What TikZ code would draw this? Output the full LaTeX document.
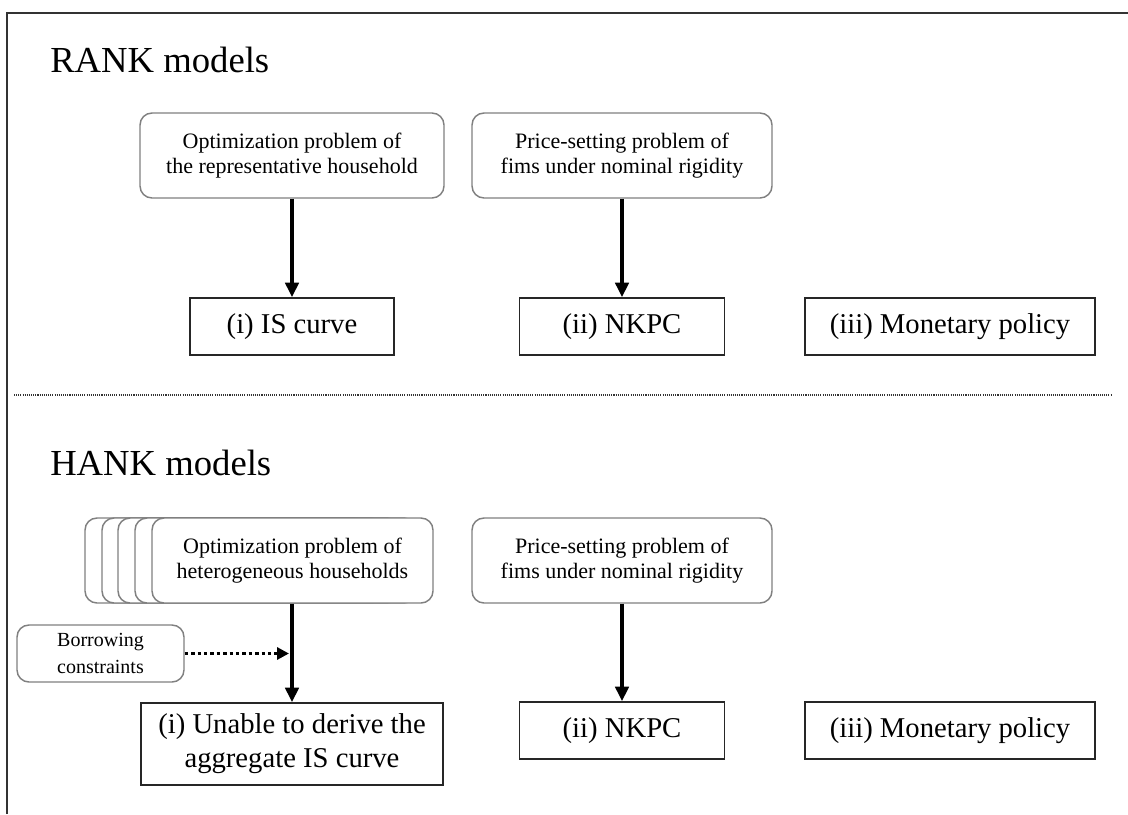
\documentclass[tikz,border=0pt]{standalone}
\usepackage{fontspec}
\setmainfont{Liberation Serif}
\usetikzlibrary{arrows.meta}

\definecolor{boxgray}{RGB}{128,128,128}

\tikzset{
  probbox/.style={draw=boxgray, line width=1.1pt, rounded corners=9pt, fill=white,
    align=center, inner sep=0pt, font=\fontsize{16.5}{18.5}\selectfont},
  eqbox/.style={draw=black!85, line width=1.1pt, fill=white, align=center, inner sep=0pt,
    font=\fontsize{21.5}{25.5}\selectfont},
  modeltitle/.style={anchor=base west, inner sep=0pt, font=\fontsize{27.5}{31}\selectfont},
  derive/.style={-{Triangle[length=11pt,width=10pt]}, line width=2.6pt},
  constr/.style={-{Triangle[length=9pt,width=9pt]}, line width=2.6pt, dash pattern=on 2.6pt off 2.2pt}
}

\begin{document}
\begin{tikzpicture}[x=0.75pt,y=0.75pt,yscale=-1,xscale=1]
\useasboundingbox (0,0) rectangle (1128,814);

%Frame
\draw [line width=1.6pt, black!80] (7,814) -- (7,13) -- (1128,13) ;

% RANK
\node [modeltitle] (rankTitle) at (50,72) {RANK models};
\node [probbox, minimum width=228pt, minimum height=63.75pt] (rankHH) at (292,155.5) {Optimization problem of\\the representative household};
\node [probbox, minimum width=225pt, minimum height=63.75pt] (rankFirm) at (622,155.5) {Price-setting problem of\\fims under nominal rigidity};
\node [eqbox, minimum width=153pt, minimum height=42.75pt] (rankIS) at (292,326.5) {(i) IS curve};
\node [eqbox, minimum width=153.75pt, minimum height=42.75pt] (rankNKPC) at (622,326.5) {(ii) NKPC};
\node [eqbox, minimum width=217.5pt, minimum height=42.75pt] (rankMP) at (950,326.5) {(iii) Monetary policy};

\draw [derive] (rankHH) -- (rankIS) ;
\draw [derive] (rankFirm) -- (rankNKPC) ;

%Separator
\draw [black!80, line width=0.8pt, dash pattern=on 0.8pt off 0.8pt] (14,395) -- (1112,395) ;

% HANK
\node [modeltitle] (hankTitle) at (50,475) {HANK models};
\foreach \xl in {85,102,118,135}
  \draw [draw=boxgray, line width=1.1pt, rounded corners=9pt, fill=white] (\xl,518) rectangle ++(281,85) ;
\node [probbox, minimum width=210.75pt, minimum height=63.75pt] (hankHH) at (292.5,560.5) {Optimization problem of\\heterogeneous households};
\node [probbox, minimum width=225pt, minimum height=63.75pt] (hankFirm) at (622,560.5) {Price-setting problem of\\fims under nominal rigidity};
\node [probbox, minimum width=125.25pt, minimum height=42.75pt, font=\fontsize{15}{20}\selectfont] (borrow) at (100.5,653.5) {Borrowing\\constraints};
\node [eqbox, minimum width=226.5pt, minimum height=61.5pt] (hankIS) at (292,744) {(i) Unable to derive the\\aggregate IS curve};
\node [eqbox, minimum width=153.75pt, minimum height=42.75pt] (hankNKPC) at (622,730.5) {(ii) NKPC};
\node [eqbox, minimum width=217.5pt, minimum height=42.75pt] (hankMP) at (950,730.5) {(iii) Monetary policy};

\coordinate (join) at (289,653.5);
\draw [derive] (hankHH.south -| hankIS.north) -- (hankIS.north) ;
\draw [constr] (borrow.east) -- (join) ;
\draw [derive] (hankFirm) -- (hankNKPC) ;

\end{tikzpicture}
\end{document}
